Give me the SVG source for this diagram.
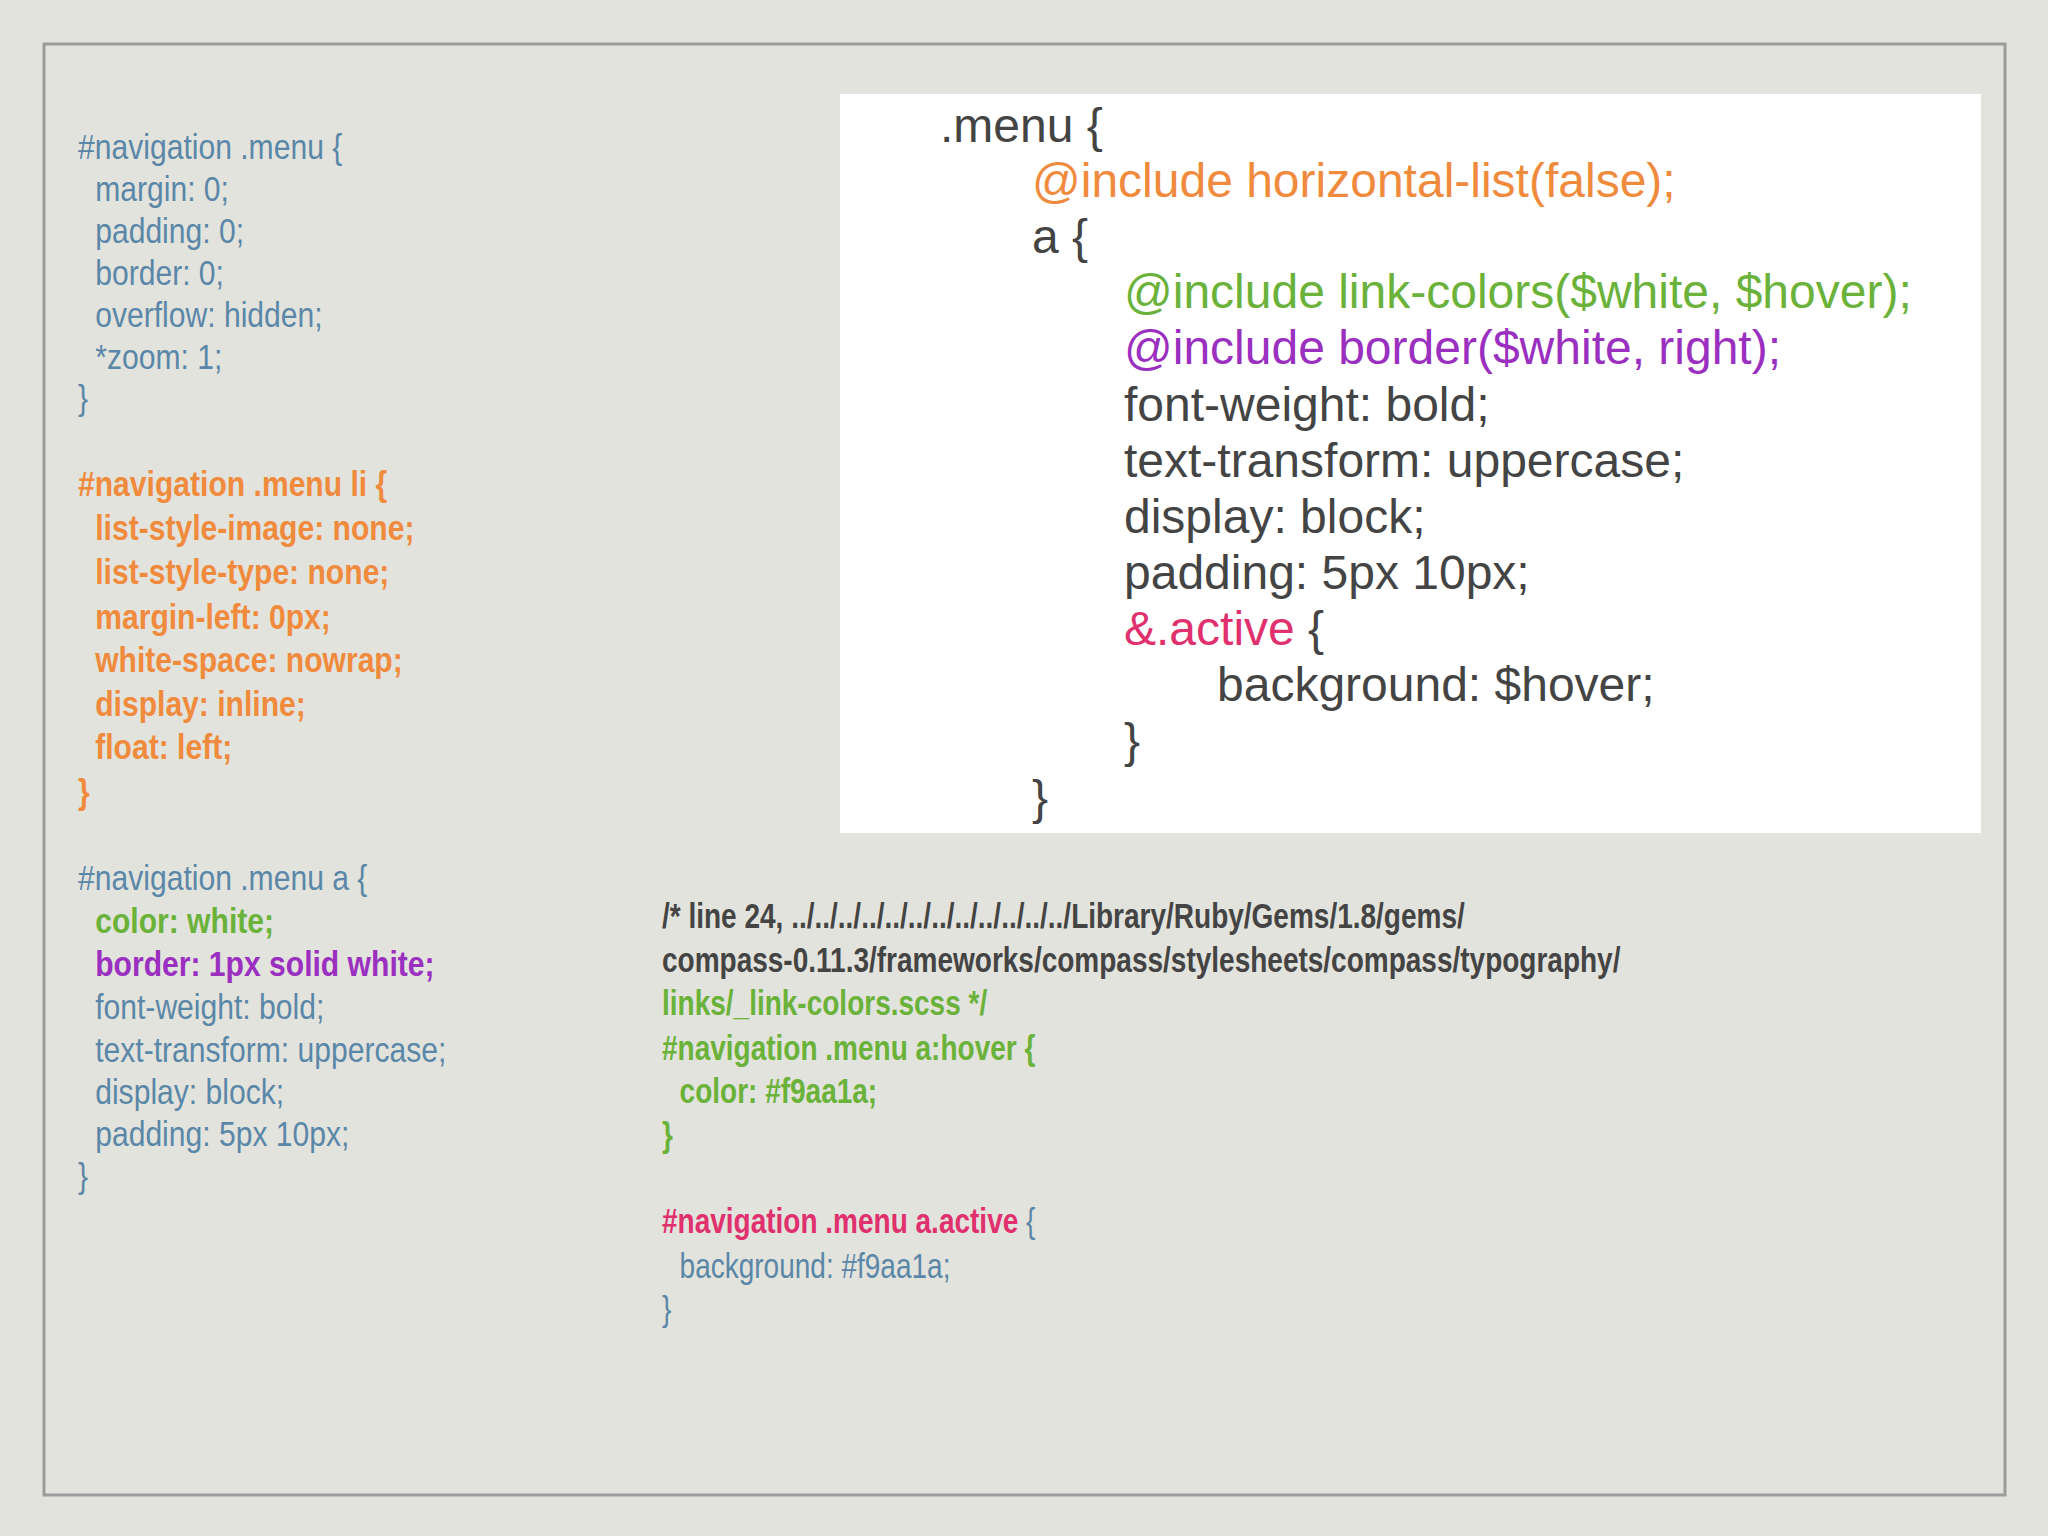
<svg xmlns="http://www.w3.org/2000/svg" width="2048" height="1536" viewBox="0 0 2048 1536">
<style>
.c{font-family:"Liberation Sans",Arial,sans-serif;font-size:35px}
.w{font-family:"Liberation Sans",Arial,sans-serif;font-size:48px}
.b{font-weight:bold}
.bl{fill:#5a87a8}.or{fill:#f08a3c}.gr{fill:#6ab23a}.pu{fill:#9a2fc0}.pk{fill:#e0306e}.dk{fill:#444444}
</style>
<rect width="2048" height="1536" fill="#e3e3dd"/>
<rect x="44" y="44" width="1961" height="1451" fill="none" stroke="#9b9b9b" stroke-width="3"/>
<g id="css-left" class="c" transform="translate(78,0) scale(0.86,1)">
<text y="159" class="bl">#navigation .menu {</text>
<text x="20" y="201" class="bl">margin: 0;</text>
<text x="20" y="243" class="bl">padding: 0;</text>
<text x="20" y="285" class="bl">border: 0;</text>
<text x="20" y="327" class="bl">overflow: hidden;</text>
<text x="20" y="369" class="bl">*zoom: 1;</text>
<text y="410" class="bl">}</text>
<text y="496" class="or b">#navigation .menu li {</text>
<text x="20" y="540" class="or b">list-style-image: none;</text>
<text x="20" y="584" class="or b">list-style-type: none;</text>
<text x="20" y="629" class="or b">margin-left: 0px;</text>
<text x="20" y="672" class="or b">white-space: nowrap;</text>
<text x="20" y="716" class="or b">display: inline;</text>
<text x="20" y="759" class="or b">float: left;</text>
<text y="804" class="or b">}</text>
<text y="890" class="bl">#navigation .menu a {</text>
<text x="20" y="933" class="gr b">color: white;</text>
<text x="20" y="976" class="pu b">border: 1px solid white;</text>
<text x="20" y="1019" class="bl">font-weight: bold;</text>
<text x="20" y="1062" class="bl">text-transform: uppercase;</text>
<text x="20" y="1104" class="bl">display: block;</text>
<text x="20" y="1146" class="bl">padding: 5px 10px;</text>
<text y="1188" class="bl">}</text>
</g>
<g id="scss-box">
<rect x="840" y="94" width="1141" height="739" fill="#ffffff"/>
<g class="w">
<text x="940" y="142" class="dk">.menu {</text>
<text x="1032" y="197" class="or">@include horizontal-list(false);</text>
<text x="1032" y="253" class="dk">a {</text>
<text x="1124" y="308" class="gr">@include link-colors($white, $hover);</text>
<text x="1124" y="364" class="pu">@include border($white, right);</text>
<text x="1124" y="421" class="dk">font-weight: bold;</text>
<text x="1124" y="477" class="dk">text-transform: uppercase;</text>
<text x="1124" y="533" class="dk">display: block;</text>
<text x="1124" y="589" class="dk">padding: 5px 10px;</text>
<text x="1124" y="645"><tspan class="pk">&amp;.active</tspan><tspan class="dk"> {</tspan></text>
<text x="1217" y="701" class="dk">background: $hover;</text>
<text x="1124" y="757" class="dk">}</text>
<text x="1032" y="814" class="dk">}</text>
</g>
</g>
<g id="css-right" class="c b" transform="translate(662,0) scale(0.8,1)">
<text y="928" class="dk">/* line 24, ../../../../../../../../../../../../Library/Ruby/Gems/1.8/gems/</text>
<text y="972" class="dk">compass-0.11.3/frameworks/compass/stylesheets/compass/typography/</text>
<text y="1015" class="gr">links/_link-colors.scss */</text>
<text y="1060" class="gr">#navigation .menu a:hover {</text>
<text x="22" y="1103" class="gr">color: #f9aa1a;</text>
<text y="1147" class="gr">}</text>
<text y="1233"><tspan class="pk">#navigation .menu a.active</tspan><tspan class="bl" font-weight="normal"> {</tspan></text>
<text x="22" y="1278" class="bl" font-weight="normal">background: #f9aa1a;</text>
<text y="1321" class="bl" font-weight="normal">}</text>
</g>
</svg>
